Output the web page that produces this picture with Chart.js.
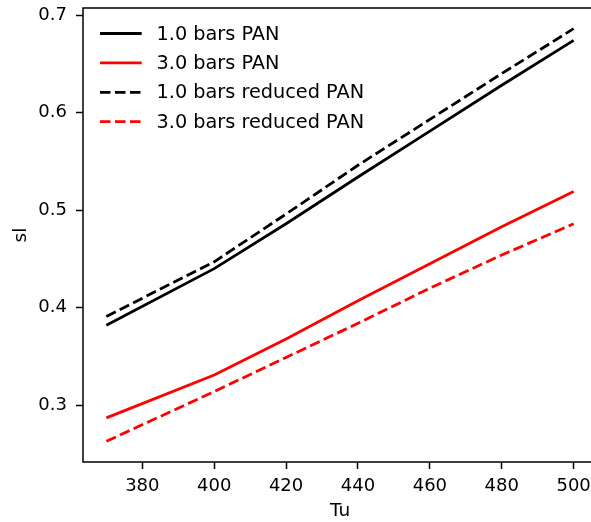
<!DOCTYPE html>
<html>
<head>
<meta charset="utf-8">
<script src="https://cdn.jsdelivr.net/npm/chart.js@4"></script>
<style>
  html, body { margin: 0; padding: 0; background: #fff; overflow: hidden; }
  #wrap { width: 598px; height: 522px; position: relative; }
</style>
</head>
<body>
<div id="wrap"><canvas id="c" width="598" height="522"></canvas></div>
<script>
const tu = [370, 400, 420, 440, 460, 480, 500];
const pan1 = [0.382, 0.440, 0.486, 0.534, 0.581, 0.628, 0.674];
const pan3 = [0.287, 0.331, 0.368, 0.407, 0.445, 0.483, 0.519];
const red1 = [0.391, 0.447, 0.496, 0.546, 0.593, 0.640, 0.686];
const red3 = [0.263, 0.314, 0.349, 0.384, 0.420, 0.454, 0.486];
const labels = ['1.0 bars PAN', '3.0 bars PAN', '1.0 bars reduced PAN', '3.0 bars reduced PAN'];
const xTicks = [380, 400, 420, 440, 460, 480, 500];
const yTicks = [0.3, 0.4, 0.5, 0.6, 0.7];

const FONT = "'DejaVu Sans', sans-serif";
const pts = (ys) => tu.map((x, i) => ({ x: x, y: ys[i] }));
const mk = (label, ys, color, dash) => ({
  label: label, data: pts(ys), borderColor: color, backgroundColor: color,
  borderWidth: 2.8, borderDash: dash, pointRadius: 0, tension: 0, fill: false,
  borderCapStyle: 'butt'
});

const frame = {
  id: 'frame',
  afterDatasetsDraw(chart) {
    const a = chart.chartArea, ctx = chart.ctx;
    ctx.save();
    ctx.strokeStyle = '#000';
    ctx.lineWidth = 1.5;
    ctx.strokeRect(a.left, a.top, a.right - a.left, a.bottom - a.top);
    ctx.restore();
  }
};

const legendPlugin = {
  id: 'mplLegend',
  afterDraw(chart) {
    const a = chart.chartArea, ctx = chart.ctx;
    ctx.save();
    chart.data.datasets.forEach((ds, i) => {
      const y = a.top + 25.5 + i * 29.4;
      ctx.beginPath();
      ctx.setLineDash(ds.borderDash || []);
      ctx.strokeStyle = ds.borderColor;
      ctx.lineWidth = ds.borderWidth;
      ctx.moveTo(a.left + 17, y);
      ctx.lineTo(a.left + 58.7, y);
      ctx.stroke();
      ctx.setLineDash([]);
      ctx.fillStyle = '#000';
      ctx.font = '19.3px ' + FONT;
      ctx.textBaseline = 'middle';
      ctx.textAlign = 'left';
      ctx.fillText(ds.label, a.left + 73.5, y + 1);
    });
    ctx.restore();
  }
};

new Chart(document.getElementById('c'), {
  type: 'line',
  data: {
    datasets: [
      mk(labels[0], pan1, '#000000', []),
      mk(labels[1], pan3, '#ff0000', []),
      mk(labels[2], red1, '#000000', [10.5, 4.5]),
      mk(labels[3], red3, '#ff0000', [10.5, 4.5])
    ]
  },
  options: {
    responsive: false,
    animation: false,
    devicePixelRatio: 1,
    layout: { padding: { left: 0, top: 8, right: 1, bottom: 0 } },
    plugins: { legend: { display: false }, tooltip: { enabled: false } },
    scales: {
      x: {
        type: 'linear', min: 363.5, max: 506.5,
        afterBuildTicks: (s) => { s.ticks = xTicks.map(v => ({ value: v })); },
        afterFit: (s) => { s.height = 60; s.paddingLeft = 0; s.paddingRight = 0; },
        grid: { drawOnChartArea: false, tickLength: 7, tickColor: '#000', tickWidth: 1.5 },
        border: { display: false },
        ticks: { color: '#000', font: { family: FONT, size: 18 }, padding: 7, maxRotation: 0, autoSkip: false },
        title: { display: true, text: 'Tu', color: '#000', font: { family: FONT, size: 18.5 }, padding: { top: 0, bottom: 0 } }
      },
      y: {
        type: 'linear', min: 0.2418, max: 0.7072,
        afterBuildTicks: (s) => { s.ticks = yTicks.map(v => ({ value: v })); },
        afterFit: (s) => { s.width = 83; s.paddingTop = 0; s.paddingBottom = 0; },
        grid: { drawOnChartArea: false, tickLength: 7, tickColor: '#000', tickWidth: 1.5 },
        border: { display: false },
        ticks: { color: '#000', font: { family: FONT, size: 18 }, padding: 9, callback: (v) => v.toFixed(1), autoSkip: false },
        title: { display: true, text: 'sl', color: '#000', font: { family: FONT, size: 18.5 }, padding: { top: 10, bottom: 0 } }
      }
    }
  },
  plugins: [frame, legendPlugin]
});
</script>
</body>
</html>
